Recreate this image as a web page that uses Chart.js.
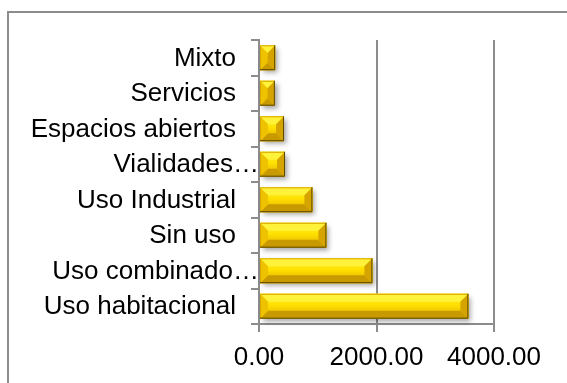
<!DOCTYPE html>
<html>
<head>
<meta charset="utf-8">
<script src="https://cdn.jsdelivr.net/npm/chart.js@4"></script>
<style>
  html, body { margin: 0; padding: 0; background: #fff; overflow: hidden; }
  #page { position: relative; width: 567px; height: 383px; overflow: hidden; }
  #frame { position: absolute; left: 7px; top: 11px; width: 700px; height: 500px; border: 2px solid #8c8c8c; }
  #wrap { position: absolute; left: 0; top: 0; width: 567px; height: 383px; }
</style>
</head>
<body>
<div id="page">
  <div id="frame"></div>
  <div id="wrap"><canvas id="chart" width="567" height="383"></canvas></div>
</div>
<script>
const categories = [
  "Mixto",
  "Servicios",
  "Espacios abiertos",
  "Vialidades…",
  "Uso Industrial",
  "Sin uso",
  "Uso combinado…",
  "Uso habitacional",
];
const values = [275, 270, 426, 443, 909, 1147, 1930, 3564];
const axisMax = 4000;
const axisStep = 2000;

const labelFont = "26px 'Liberation Sans', Arial, sans-serif";
const gridGrey = "#8c8c8c";

function barBox(el) {
  const p = el.getProps(["x", "y", "base", "height"], true);
  return {
    l: Math.min(p.x, p.base),
    r: Math.max(p.x, p.base),
    t: p.y - p.height / 2,
    b: p.y + p.height / 2,
  };
}

function poly(ctx, pts, fill) {
  ctx.beginPath();
  ctx.moveTo(pts[0][0], pts[0][1]);
  for (let i = 1; i < pts.length; i++) ctx.lineTo(pts[i][0], pts[i][1]);
  ctx.closePath();
  ctx.fillStyle = fill;
  ctx.fill();
}

// soft shadow under each bar and the bevelled gold face on top
const bevelBars = {
  id: "bevelBars",
  beforeDatasetsDraw(chart) {
    const ctx = chart.ctx;
    chart.getDatasetMeta(0).data.forEach((el) => {
      const s = barBox(el);
      ctx.save();
      ctx.shadowColor = "rgba(0,0,0,0.35)";
      ctx.shadowBlur = 5;
      ctx.shadowOffsetX = 3;
      ctx.shadowOffsetY = 3;
      ctx.fillStyle = "#e0b000";
      ctx.fillRect(s.l, s.t, s.r - s.l, s.b - s.t);
      ctx.restore();
    });
  },
  afterDatasetsDraw(chart) {
    const ctx = chart.ctx;
    chart.getDatasetMeta(0).data.forEach((el) => {
      const s = barBox(el);
      const w = s.r - s.l, h = s.b - s.t;
      const k = Math.min(8, w / 2, h / 2);
      ctx.save();
      const g = ctx.createLinearGradient(0, s.t, 0, s.b);
      g.addColorStop(0, "#fff430");
      g.addColorStop(0.45, "#ffe000");
      g.addColorStop(1, "#dcaa00");
      ctx.fillStyle = g;
      ctx.fillRect(s.l, s.t, w, h);
      // bevel edges
      poly(ctx, [[s.l, s.t], [s.r, s.t], [s.r - k, s.t + k], [s.l + k, s.t + k]], "#fff23a");
      poly(ctx, [[s.l, s.b], [s.r, s.b], [s.r - k, s.b - k], [s.l + k, s.b - k]], "#c99a00");
      poly(ctx, [[s.l, s.t], [s.l + k, s.t + k], [s.l + k, s.b - k], [s.l, s.b]], "#efc200");
      poly(ctx, [[s.r, s.t], [s.r - k, s.t + k], [s.r - k, s.b - k], [s.r, s.b]], "#d6a400");
      // outline
      ctx.lineWidth = 1;
      ctx.strokeStyle = "#d9a800";
      ctx.beginPath();
      ctx.moveTo(s.l + 0.5, s.b);
      ctx.lineTo(s.l + 0.5, s.t + 0.5);
      ctx.lineTo(s.r, s.t + 0.5);
      ctx.stroke();
      ctx.strokeStyle = "#5c4800";
      ctx.beginPath();
      ctx.moveTo(s.r - 0.5, s.t);
      ctx.lineTo(s.r - 0.5, s.b - 0.5);
      ctx.lineTo(s.l, s.b - 0.5);
      ctx.stroke();
      ctx.restore();
    });
  },
};

// category labels; the cut-off ones run over the tick marks as in the original
const yLabels = {
  id: "yLabels",
  afterDraw(chart) {
    const ctx = chart.ctx;
    const y = chart.scales.y;
    ctx.save();
    ctx.font = labelFont;
    ctx.fillStyle = "#000";
    ctx.textAlign = "right";
    ctx.textBaseline = "middle";
    categories.forEach((lab, i) => {
      const cut = lab.endsWith("…");
      const xr = y.right - (cut ? 0 : 23);
      ctx.fillText(lab, xr, y.getPixelForValue(i) + 1);
    });
    ctx.restore();
  },
};

new Chart(document.getElementById("chart").getContext("2d"), {
  type: "bar",
  data: {
    labels: categories,
    datasets: [
      {
        data: values,
        backgroundColor: "#e8b800",
        borderWidth: 0,
        barPercentage: 0.7,
        categoryPercentage: 1,
      },
    ],
  },
  options: {
    indexAxis: "y",
    responsive: false,
    animation: false,
    layout: { padding: { top: 40, right: 73, left: 0, bottom: 0 } },
    plugins: { legend: { display: false }, tooltip: { enabled: false } },
    scales: {
      x: {
        min: 0,
        max: axisMax,
        afterFit: (s) => { s.height = 59; },
        ticks: {
          stepSize: axisStep,
          maxRotation: 0,
          padding: 10,
          color: "#000",
          font: { family: "'Liberation Sans', Arial, sans-serif", size: 26 },
          callback: (v) => Number(v).toFixed(2),
        },
        grid: { color: gridGrey, lineWidth: 2, tickLength: 8 },
        border: { color: gridGrey, width: 2 },
      },
      y: {
        afterFit: (s) => { s.width = 259; },
        ticks: { display: false },
        grid: { drawOnChartArea: false, color: gridGrey, lineWidth: 2, tickLength: 8 },
        border: { color: gridGrey, width: 2 },
      },
    },
  },
  plugins: [bevelBars, yLabels],
});
</script>
</body>
</html>
